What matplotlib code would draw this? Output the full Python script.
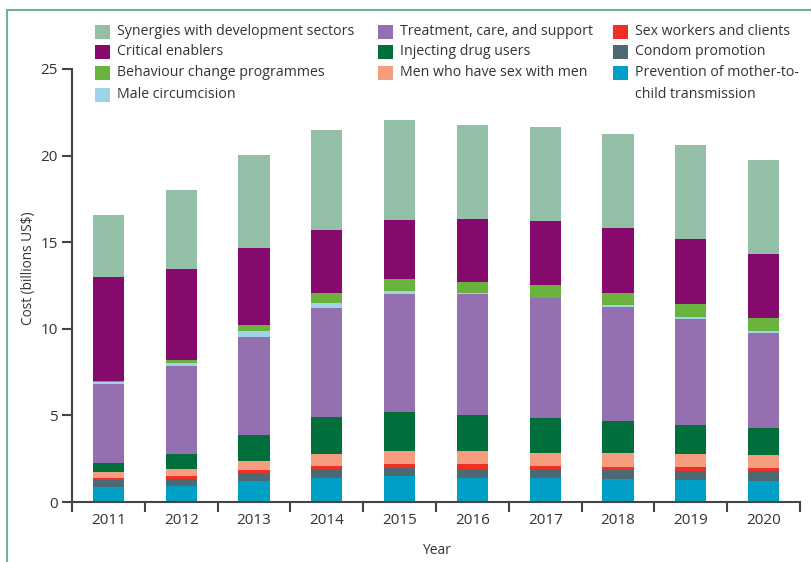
import matplotlib.pyplot as plt
import numpy as np
from matplotlib.patches import Rectangle
from matplotlib.lines import Line2D

plt.rcParams['font.family'] = ['Open Sans', 'DejaVu Sans']

years = ['2011', '2012', '2013', '2014', '2015', '2016', '2017', '2018', '2019', '2020']

# billions US$, bottom of the stack first
pmtct = [0.87, 0.92, 1.21, 1.38, 1.50, 1.38, 1.38, 1.33, 1.27, 1.21]
condom = [0.42, 0.41, 0.44, 0.50, 0.46, 0.50, 0.50, 0.52, 0.52, 0.58]
sex_workers = [0.11, 0.17, 0.20, 0.19, 0.23, 0.31, 0.19, 0.17, 0.23, 0.17]
msm = [0.33, 0.40, 0.52, 0.70, 0.75, 0.75, 0.76, 0.81, 0.75, 0.75]
idu = [0.52, 0.87, 1.50, 2.13, 2.25, 2.08, 2.02, 1.84, 1.67, 1.56]
treatment = [4.58, 5.08, 5.65, 6.29, 6.81, 7.00, 6.92, 6.58, 6.12, 5.48]
circumcision = [0.07, 0.17, 0.35, 0.29, 0.17, 0.06, 0.03, 0.12, 0.11, 0.12]
behaviour = [0.08, 0.17, 0.34, 0.58, 0.69, 0.61, 0.72, 0.69, 0.75, 0.75]
enablers = [6.00, 5.25, 4.45, 3.64, 3.41, 3.64, 3.69, 3.75, 3.76, 3.69]
synergies = [3.58, 4.56, 5.36, 5.77, 5.77, 5.42, 5.43, 5.42, 5.42, 5.42]

series = [pmtct, condom, sex_workers, msm, idu, treatment,
          circumcision, behaviour, enablers, synergies]
colors = ['#00a0c6', '#4d6974', '#ee3124', '#f59d7e', '#006f3c', '#9570b0',
          '#9fd4e8', '#6ab23e', '#850a6c', '#93bfa7']

legend_cols = [
    [('Synergies with development sectors', '#93bfa7'),
     ('Critical enablers', '#850a6c'),
     ('Behaviour change programmes', '#6ab23e'),
     ('Male circumcision', '#9fd4e8')],
    [('Treatment, care, and support', '#9570b0'),
     ('Injecting drug users', '#006f3c'),
     ('Men who have sex with men', '#f59d7e')],
    [('Sex workers and clients', '#ee3124'),
     ('Condom promotion', '#4d6974'),
     ('Prevention of mother-to-\nchild transmission', '#00a0c6')],
]

W, H = 811, 562
fig = plt.figure(figsize=(W / 100, H / 100), dpi=100)
ax = fig.add_axes([72 / W, 60 / H, (800 - 72) / W, (502 - 69) / H])

x = np.arange(len(years))
bottom = np.zeros(len(years))
for vals, c in zip(series, colors):
    ax.bar(x, vals, width=0.43, bottom=bottom, color=c, linewidth=0)
    bottom += np.array(vals)

ax.set_xlim(-0.5, len(years) - 0.5)
ax.set_ylim(0, 25)
ax.set_yticks([0, 5, 10, 15, 20, 25])
ax.set_xticks(x)
ax.set_xticklabels(years)
ax.set_xticks(np.arange(-0.5, len(years)), minor=True)

axis_col = '#444444'
for s in ['top', 'right']:
    ax.spines[s].set_visible(False)
for s in ['left', 'bottom']:
    ax.spines[s].set_linewidth(1.5)
    ax.spines[s].set_color(axis_col)
ax.tick_params(axis='x', which='major', length=0, pad=8, labelsize=11, labelcolor='#333333')
ax.tick_params(axis='x', which='minor', length=7, width=1.5, color=axis_col)
ax.tick_params(axis='y', length=7, width=1.5, color=axis_col, pad=3,
               labelsize=11, labelcolor='#333333')

ax.set_xlabel('Year', fontsize=10, color='#333333', labelpad=11)
ax.set_ylabel('Cost (billions US$)', fontsize=9.8, color='#333333')
ax.yaxis.set_label_coords(-0.049, 0.54)

# legend, laid out by hand so the two-line entry aligns on its first line
col_x = [95, 378, 613]
row_y = [32, 52, 73, 95]
for cx, entries in zip(col_x, legend_cols):
    for (label, c), ry in zip(entries, row_y):
        fig.add_artist(Rectangle((cx / W, 1 - (ry + 7) / H), 15 / W, 14 / H,
                                 transform=fig.transFigure, color=c, lw=0))
        fig.text((cx + 22) / W, 1 - (ry - 8) / H, label, ha='left', va='top',
                 fontsize=10.2, color='#333333', linespacing=1.6)

# thin green frame
frame_col = '#72b28f'
fig.add_artist(Line2D([7 / W, 1], [1 - 10 / H, 1 - 10 / H], transform=fig.transFigure,
                      color=frame_col, lw=1.5))
fig.add_artist(Line2D([7 / W, 7 / W], [0, 1 - 10 / H], transform=fig.transFigure,
                      color=frame_col, lw=1.5))

fig.savefig('out.png', dpi=100)
